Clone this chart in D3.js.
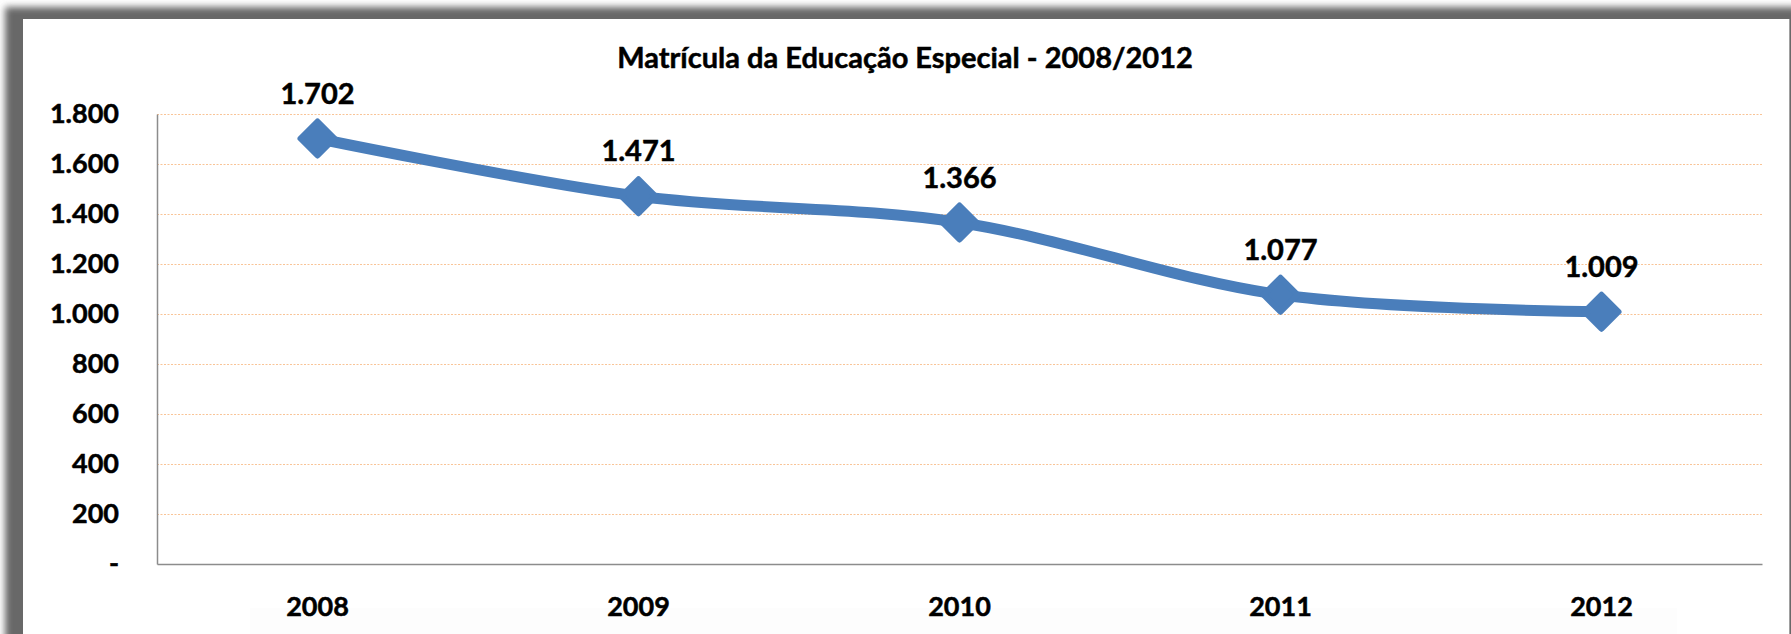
<!DOCTYPE html>
<html>
<head>
<meta charset="utf-8">
<script src="https://cdn.jsdelivr.net/npm/d3@7"></script>
<style>
  body { margin: 0; background: #fff; }
  svg { display: block; font-family: Lato, "Open Sans", sans-serif; }
</style>
</head>
<body>
<svg id="chart"></svg>
<script>
const years = ["2008", "2009", "2010", "2011", "2012"];
const matriculas = [1702, 1471, 1366, 1077, 1009];
const yTicks = [0, 200, 400, 600, 800, 1000, 1200, 1400, 1600, 1800];
const title = "Matrícula da Educação Especial - 2008/2012";

const width = 1791, height = 634;
const plot = {left: 157, right: 1762, top: 114, bottom: 564};

const ptBR = d3.formatLocale({decimal: ",", thousands: ".", grouping: [3], currency: ["R$", ""]});
const fmt = ptBR.format(",d");

const svg = d3.select('#chart')
    .attr('width', width)
    .attr('height', height);

// frame shadow
const defs = svg.append("defs");
defs.append("filter").attr("id", "blur")
    .attr("x", "-5%").attr("y", "-5%").attr("width", "110%").attr("height", "120%")
  .append("feGaussianBlur").attr("stdDeviation", 3.5);

svg.append("rect")
    .attr("x", 5).attr("y", 7)
    .attr("width", 1800).attr("height", 700)
    .attr("fill", "#686868")
    .attr("filter", "url(#blur)");

svg.append("rect")
    .attr("x", 23).attr("y", 19)
    .attr("width", 1767).attr("height", 640)
    .attr("fill", "#ffffff");

svg.append("line")
    .attr("x1", 1789.5).attr("x2", 1789.5)
    .attr("y1", 19).attr("y2", height)
    .attr("stroke", "#a0a0a0").attr("stroke-width", 1);

// faint band at the bottom
svg.append("rect")
    .attr("x", 250).attr("y", 608)
    .attr("width", 1427).attr("height", 26)
    .attr("fill", "#fdfdfd");

const x = d3.scaleBand()
    .domain(years)
    .range([plot.left, plot.right]);

const y = d3.scaleLinear()
    .domain([0, 1800])
    .range([plot.bottom, plot.top]);

// gridlines
svg.append("g")
    .selectAll("line")
    .data(yTicks.filter(d => d > 0))
    .enter()
    .append("line")
    .attr("x1", plot.left)
    .attr("x2", plot.right)
    .attr("y1", d => Math.round(y(d)) + 0.5)
    .attr("y2", d => Math.round(y(d)) + 0.5)
    .attr("stroke", "#f9c497")
    .attr("stroke-width", 1)
    .attr("stroke-dasharray", "2,1.5");

const boldText = sel => sel
    .attr("font-size", 27)
    .attr("font-weight", "bold")
    .attr("fill", "#000")
    .attr("stroke", "#000")
    .attr("stroke-width", 0.5)
    .attr("font-family", "Lato, sans-serif");

// axes
const yAxis = d3.axisLeft(y)
    .tickValues(yTicks)
    .tickSize(0)
    .tickPadding(38)
    .tickFormat(d => d === 0 ? "-" : fmt(d));

svg.append("g")
    .attr("transform", `translate(${plot.left},0)`)
    .call(yAxis)
    .call(g => g.select(".domain").attr("stroke", "#8c8c8c").attr("stroke-width", 1.5))
    .call(g => g.selectAll("text").call(boldText));

const xAxis = d3.axisBottom(x)
    .tickSize(0)
    .tickPadding(33);

svg.append("g")
    .attr("transform", `translate(0,${plot.bottom})`)
    .call(xAxis)
    .call(g => g.select(".domain").attr("stroke", "#8c8c8c").attr("stroke-width", 1.5))
    .call(g => g.selectAll("text").call(boldText));

// line
const data = years.map((yr, i) => ({year: yr, value: matriculas[i]}));
const cx = d => x(d.year) + x.bandwidth() / 2;

const line = d3.line()
    .x(cx)
    .y(d => y(d.value))
    .curve(d3.curveCardinal.tension(0));

svg.append("path")
    .datum(data)
    .attr("d", line)
    .attr("fill", "none")
    .attr("stroke", "#4a7ebb")
    .attr("stroke-width", 11)
    .attr("stroke-linejoin", "round");

// diamond markers
const diamond = r => `M0,${-r}L${r},0L0,${r}L${-r},0Z`;
svg.append("g")
    .selectAll("path")
    .data(data)
    .enter()
    .append("path")
    .attr("transform", d => `translate(${cx(d)},${y(d.value)})`)
    .attr("d", diamond(17))
    .attr("fill", "#4a7ebb")
    .attr("stroke", "#4a7ebb")
    .attr("stroke-width", 6)
    .attr("stroke-linejoin", "round");

// data labels
svg.append("g")
    .selectAll("text")
    .data(data)
    .enter()
    .append("text")
    .attr("x", cx)
    .attr("y", d => y(d.value) - 35)
    .attr("text-anchor", "middle")
    .call(boldText)
    .attr("font-size", 29)
    .text(d => fmt(d.value));

// title
svg.append("text")
    .attr("x", 905)
    .attr("y", 68)
    .attr("text-anchor", "middle")
    .call(boldText)
    .attr("font-size", 29)
    .text(title);
</script>
</body>
</html>
